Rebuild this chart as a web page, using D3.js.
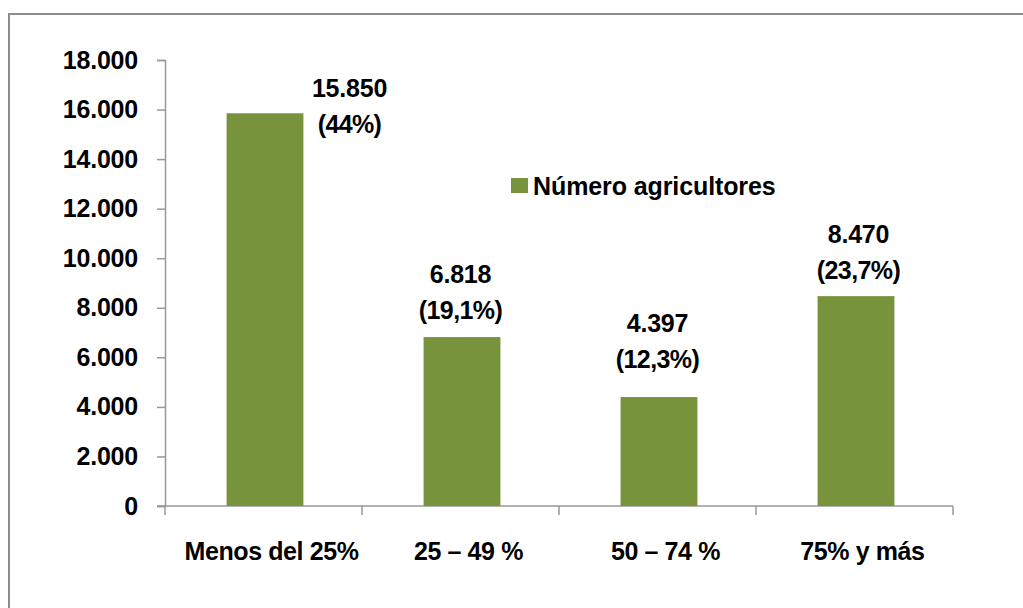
<!DOCTYPE html>
<html>
<head>
<meta charset="utf-8">
<script src="https://cdn.jsdelivr.net/npm/d3@7"></script>
<style>
  body { margin: 0; background: #fff; }
  text { font-family: "Liberation Sans", Arial, sans-serif; font-weight: bold; fill: #000; }
</style>
</head>
<body>
<div id="container"></div>
<script>
// data
let categories = ["Menos del 25%", "25 \u2013 49 %", "50 \u2013 74 %", "75% y más"];
let values = [15850, 6818, 4397, 8470];
let valueLabels = ["15.850", "6.818", "4.397", "8.470"];
let pctLabels = ["(44%)", "(19,1%)", "(12,3%)", "(23,7%)"];
let yTicks = [0, 2000, 4000, 6000, 8000, 10000, 12000, 14000, 16000, 18000];
let seriesName = "Número agricultores";

// label nudges (manual placement in the original)
let labelDx = [86, 0, 0, 4];
let labelDy = [-11, 27, 38, 26];

let w = 1023, h = 608;
let viz = d3.select("#container").append("svg")
  .attr("width", w)
  .attr("height", h);

// outer frame
viz.append("rect")
  .attr("x", 9).attr("y", 14)
  .attr("width", w + 20).attr("height", h + 20)
  .attr("fill", "none")
  .attr("stroke", "#8c8c8c")
  .attr("stroke-width", 2);

let x0 = 165, x1 = 953, yBase = 506, yTop = 60;

let xScale = d3.scaleBand().domain(categories).range([x0, x1]).paddingInner(0.61).paddingOuter(0.305);
let yScale = d3.scaleLinear().domain([0, 18000]).range([yBase, yTop]);

let fmt = d => d3.format(",")(d).replace(/,/g, ".");

// y axis
let yAxis = viz.append("g").attr("transform", "translate(" + x0 + ",0)")
  .call(d3.axisLeft(yScale).tickValues(yTicks).tickSize(8).tickPadding(19).tickFormat(fmt));
yAxis.select(".domain").attr("stroke", "#999").attr("stroke-width", 1.5);
yAxis.selectAll(".tick line").attr("stroke", "#999").attr("stroke-width", 1.5);
yAxis.selectAll(".tick text").attr("font-size", 25).attr("letter-spacing", -0.2).attr("fill", "#000")
  .attr("font-family", null);

// x axis with ticks at category boundaries
let bounds = d3.scaleLinear().domain([0, categories.length]).range([x0, x1]);
let xAxisG = viz.append("g");
xAxisG.append("line")
  .attr("x1", x0 - 8).attr("x2", x1)
  .attr("y1", yBase).attr("y2", yBase)
  .attr("stroke", "#999").attr("stroke-width", 1.5);
xAxisG.selectAll(".btick").data(d3.range(categories.length + 1))
  .enter().append("line")
  .attr("x1", d => bounds(d)).attr("x2", d => bounds(d))
  .attr("y1", yBase).attr("y2", yBase + 9)
  .attr("stroke", "#999").attr("stroke-width", 1.5);
xAxisG.selectAll(".xlab").data(categories)
  .enter().append("text")
  .attr("x", d => xScale(d) + xScale.bandwidth() / 2 + 8)
  .attr("y", 560)
  .attr("text-anchor", "middle")
  .attr("font-size", 25)
  .attr("letter-spacing", -0.4)
  .text(d => d);

// bars
let barColor = "#77933c";
viz.selectAll(".bar").data(values)
  .enter().append("rect")
  .attr("class", "bar")
  .attr("x", (d, i) => xScale(categories[i]) + 1.5)
  .attr("y", d => yScale(d))
  .attr("width", xScale.bandwidth())
  .attr("height", d => yBase - yScale(d))
  .attr("fill", barColor);

// value labels
let labels = viz.selectAll(".lab").data(values)
  .enter().append("g")
  .attr("transform", (d, i) => "translate(" + (xScale(categories[i]) + xScale.bandwidth() / 2 + labelDx[i]) + "," + (yScale(d) - labelDy[i]) + ")");
labels.append("text")
  .attr("text-anchor", "middle")
  .attr("y", -27)
  .attr("font-size", 25)
  .attr("letter-spacing", -0.2)
  .text((d, i) => valueLabels[i]);
labels.append("text")
  .attr("text-anchor", "middle")
  .attr("y", 9)
  .attr("font-size", 25)
  .attr("letter-spacing", -0.6)
  .text((d, i) => pctLabels[i]);

// legend
let legend = viz.append("g").attr("transform", "translate(511,178)");
legend.append("rect").attr("width", 17).attr("height", 15).attr("fill", barColor);
legend.append("text")
  .attr("x", 22).attr("y", 17)
  .attr("font-size", 25)
  .attr("letter-spacing", -0.1)
  .text(seriesName);
</script>
</body>
</html>
